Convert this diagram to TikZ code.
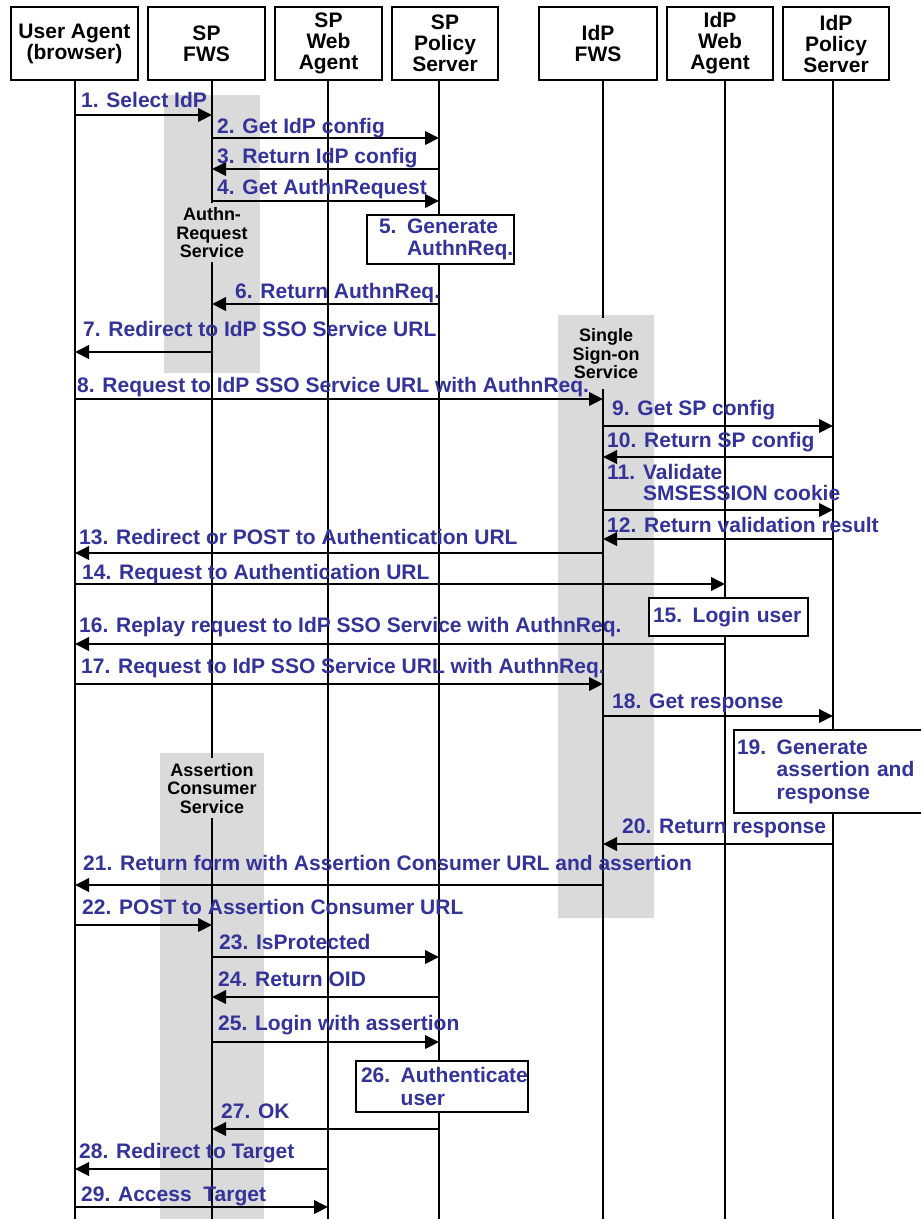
\documentclass[tikz,border=0pt]{standalone}
\usepackage{fontspec}
\setmainfont{Liberation Sans}
\usetikzlibrary{arrows.meta}
\definecolor{msgblue}{RGB}{51,51,153}
\definecolor{band}{RGB}{218,218,218}

% one message arrow between two lifelines at height #3
\newcommand\msg[3]{\draw[msg] (#1 |- 0,#3) -- (#2 |- 0,#3);}

\begin{document}
\begin{tikzpicture}[x=1pt,y=-1pt,
  actor/.style={draw, line width=2pt, fill=white, minimum height=73pt, inner sep=0pt,
    align=center, font=\bfseries\fontsize{21}{21}\selectfont},
  lifeline/.style={line width=2pt},
  bandlabel/.style={fill=band, inner xsep=2pt, inner ysep=0pt, align=center, anchor=north,
    font=\bfseries\fontsize{18}{18.5}\selectfont},
  msg/.style={line width=2pt, -{Triangle[length=14pt,width=13.5pt]}},
  lbl/.style={text=msgblue, anchor=base west, inner sep=0pt,
    font=\bfseries\fontsize{21}{21.5}\selectfont},
  actbox/.style={draw, line width=2pt, fill=white, text=msgblue, align=left,
    anchor=north west, inner ysep=0pt, font=\bfseries\fontsize{21}{22.5}\selectfont}
]
\useasboundingbox (0,0) rectangle (921,1219);
\fill[white] (0,0) rectangle (921,1219);

% service activity bands
\fill[band] (164,95) rectangle (260,373);
\fill[band] (558,315) rectangle (654,918);
\fill[band] (160,753) rectangle (264,1225);

% participants
\node[actor, minimum width=127pt] (ua)     at (74.5,43.5) {User Agent\\(browser)};
\node[actor, minimum width=117pt] (spfws)  at (206.5,43.5) {SP\\FWS};
\node[actor, minimum width=107pt] (spwa)   at (328.5,43.5) {SP\\Web\\Agent};
\node[actor, minimum width=106pt] (sppol)  at (445,43.5) {SP\\Policy\\Server};
\node[actor, minimum width=118pt] (idpfws) at (598,43.5) {IdP\\FWS};
\node[actor, minimum width=106pt] (idpwa)  at (720,43.5) {IdP\\Web\\Agent};
\node[actor, minimum width=106pt] (idppol) at (836,43.5) {IdP\\Policy\\Server};

% lifeline ends
\coordinate (uaL) at (75,1225);
\coordinate (spfwsL) at (212,1225);
\coordinate (spwaL) at (328,1225);
\coordinate (sppolL) at (439,1225);
\coordinate (idpfwsL) at (603,1225);
\coordinate (idpwaL) at (725,1225);
\coordinate (idppolL) at (833,1225);

\draw[lifeline] (uaL |- ua.south) -- (uaL);
\draw[lifeline] (spfwsL |- spfws.south) -- (spfwsL);
\draw[lifeline] (spwaL |- spwa.south) -- (spwaL);
\draw[lifeline] (sppolL |- sppol.south) -- (sppolL);
\draw[lifeline] (idpfwsL |- idpfws.south) -- (idpfwsL);
\draw[lifeline] (idpwaL |- idpwa.south) -- (idpwaL);
\draw[lifeline] (idppolL |- idppol.south) -- (idppolL);

% band titles
\node[bandlabel, minimum height=59pt] (ars) at (212,203) {Authn-\\Request\\Service};
\node[bandlabel, minimum height=71pt] (sso) at (606,318) {Single\\Sign-on\\Service};
\node[bandlabel, minimum height=60pt] (acs) at (212,758) {Assertion\\Consumer\\Service};

% messages
\msg{uaL}{spfwsL}{115}
\msg{spfwsL}{sppolL}{138}
\msg{sppolL}{spfwsL}{169}
\msg{spfwsL}{sppolL}{201}
\msg{sppolL}{spfwsL}{304}
\msg{spfwsL}{uaL}{352}
\msg{uaL}{idpfwsL}{399}
\msg{idpfwsL}{idppolL}{426}
\msg{idppolL}{idpfwsL}{457}
\msg{idpfwsL}{idppolL}{510}
\msg{idppolL}{idpfwsL}{539}
\msg{idpfwsL}{uaL}{553}
\msg{uaL}{idpwaL}{584}
\msg{idpwaL}{uaL}{644}
\msg{uaL}{idpfwsL}{684}
\msg{idpfwsL}{idppolL}{716}
\msg{idppolL}{idpfwsL}{844}
\msg{idpfwsL}{uaL}{885}
\msg{uaL}{spfwsL}{925}
\msg{spfwsL}{sppolL}{957}
\msg{sppolL}{spfwsL}{997}
\msg{spfwsL}{sppolL}{1042}
\msg{sppolL}{spfwsL}{1129}
\msg{spwaL}{uaL}{1169}
\msg{uaL}{spwaL}{1207}

% message labels
\node[lbl] (t1)  at (81,107)  {1. Select IdP};
\node[lbl] (t2)  at (217,133) {2. Get IdP config};
\node[lbl] (t3)  at (217,163) {3. Return IdP config};
\node[lbl] (t4)  at (217,194) {4. Get AuthnRequest};
\node[lbl] (t6)  at (235,298) {6. Return AuthnReq.};
\node[lbl] (t7)  at (83,336)  {7. Redirect to IdP SSO Service URL};
\node[lbl] (t8)  at (77,392)  {8. Request to IdP SSO Service URL with AuthnReq.};
\node[lbl] (t9)  at (612,415) {9. Get SP config};
\node[lbl] (t10) at (607,447) {10. Return SP config};
\node[lbl] (t11) at (607,479) {\vtop{\hbox{11. Validate}\hbox{\phantom{11. }SMSESSION cookie}}};
\node[lbl] (t12) at (607,532) {12. Return validation result};
\node[lbl] (t13) at (79,544)  {13. Redirect or POST to Authentication URL};
\node[lbl] (t14) at (82,579)  {14. Request to Authentication URL};
\node[lbl] (t16) at (79,632)  {16. Replay request to IdP SSO Service with AuthnReq.};
\node[lbl] (t17) at (81,673)  {17. Request to IdP SSO Service URL with AuthnReq.};
\node[lbl] (t18) at (612,708) {18. Get response};
\node[lbl] (t20) at (622,833) {20. Return response};
\node[lbl] (t21) at (83,870)  {21. Return form with Assertion Consumer URL and assertion};
\node[lbl] (t22) at (82,914)  {22. POST to Assertion Consumer URL};
\node[lbl] (t23) at (219,949) {23. IsProtected};
\node[lbl] (t24) at (218,986) {24. Return OID};
\node[lbl] (t25) at (218,1030) {25. Login with assertion};
\node[lbl] (t27) at (221,1118) {27. OK};
\node[lbl] (t28) at (79,1158) {28. Redirect to Target};
\node[lbl] (t29) at (81,1201) {29. Access\ \ Target};

% local processing steps
\node[actbox, inner xsep=12pt, text width=123pt, minimum height=49pt] (b5) at (366,214)
  {\mbox{5. Generate}\\\mbox{\phantom{5. }AuthnReq.}};
\node[actbox, inner xsep=4pt, text width=151pt, minimum height=38pt] (b15) at (648,597)
  {\mbox{15. Login user}};
\node[actbox, inner xsep=3pt, text width=194pt, minimum height=83pt] (b19) at (733,729)
  {\mbox{19. Generate}\\\mbox{\phantom{19. }assertion and}\\\mbox{\phantom{19. }response}};
\node[actbox, inner xsep=5pt, text width=162pt, minimum height=51pt] (b26) at (355,1060)
  {\mbox{26. Authenticate}\\\mbox{\phantom{26. }user}};
\end{tikzpicture}
\end{document}
